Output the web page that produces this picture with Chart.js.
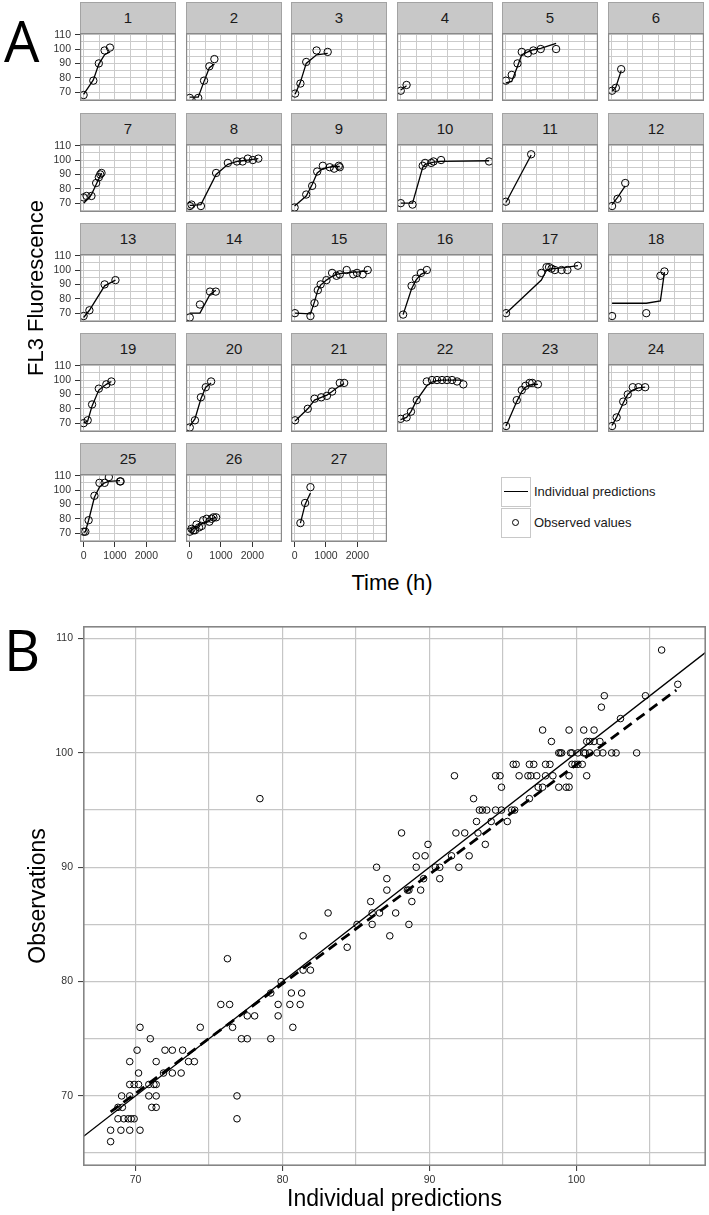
<!DOCTYPE html>
<html><head><meta charset="utf-8">
<script src="https://cdn.jsdelivr.net/npm/chart.js@4.4.1/dist/chart.umd.min.js"></script>
<style>
html,body{margin:0;padding:0;background:#fff;}
#root{position:relative;width:709px;height:1215px;overflow:hidden;background:#fff;font-family:"Liberation Sans",Arial,sans-serif;color:#1a1a1a;}
canvas{position:absolute;}
.strip{position:absolute;box-sizing:border-box;background:#c8c8c8;border:1px solid #a3a3a3;border-bottom:none;text-align:center;font-size:15px;line-height:30px;color:#1a1a1a;}
.big{position:absolute;font-family:"Open Sans",sans-serif;font-size:56px;line-height:56px;color:#000;}
.title{position:absolute;font-size:22px;line-height:26px;white-space:nowrap;text-align:center;color:#000;}
.key{position:absolute;box-sizing:border-box;width:30px;height:30px;border:1.5px solid #c8c8c8;background:#fff;}
.keytxt{position:absolute;font-size:13px;line-height:16px;color:#1a1a1a;white-space:nowrap;}
</style></head>
<body><div id="root"></div>
<script>
// ---------------- Panel A data (one entry per facet) ----------------
const facetLabels = ['1','2','3','4','5','6','7','8','9','10','11','12','13','14','15','16','17','18','19','20','21','22','23','24','25','26','27'];
const time = [
 [0,310,485,670,840],
 [5,275,460,630,790],
 [15,185,370,700,1055],
 [5,190],
 [10,195,380,515,710,885,1120,1610],
 [15,135,305],
 [0,95,250,400,485,530,570],
 [10,60,360,845,1220,1510,1690,1855,2015,2190],
 [0,370,560,720,900,1120,1260,1410,1440],
 [5,380,705,780,975,1050,1290,2820],
 [10,815],
 [15,190,435],
 [0,185,670,1015],
 [5,330,650,835],
 [10,505,635,740,830,1015,1195,1335,1440,1660,1870,1990,2170,2330],
 [80,350,490,650,835],
 [15,1140,1305,1385,1465,1570,1785,1970,2305],
 [15,1105,1555,1685],
 [0,130,270,485,725,885],
 [5,170,360,515,685],
 [15,420,635,850,1030,1195,1440,1580],
 [0,190,330,515,835,1000,1160,1320,1480,1640,1800,2000],
 [15,355,515,635,765,850,1030],
 [15,160,370,515,675,855,1070],
 [0,55,160,345,505,670,805,1160,1180],
 [5,60,120,170,220,300,385,435,545,630,700,760,845],
 [185,335,505]
];
const observed = [
 [68,78,90,99,101],
 [66,66,78,88,93],
 [69,76,91,99,98],
 [71,75],
 [78,82,90,98,97,99,100,100],
 [71,73,86],
 [74,75,75,84,88,90,91],
 [68,69,68,91,98,99,99,101,100,101],
 [67,76,82,92,96,95,94,96,95],
 [70,69,96,98,98,99,100,99],
 [71,104],
 [68,73,84],
 [68,72,90,93],
 [67,76,85,85],
 [70,68,77,86,90,93,98,96,97,100,97,98,97,100],
 [69,89,94,98,100],
 [70,98,102,102,101,100,100,100,103],
 [68,70,96,99],
 [70,72,83,94,97,99],
 [67,72,88,95,99],
 [72,80,87,88,89,92,98,98],
 [73,74,78,86,99,100,100,100,100,100,99,97],
 [68,86,93,96,98,98,97],
 [68,74,85,90,95,95,95],
 [71,71,79,96,105,105,109,106,106],
 [71,73,72,72,76,74,75,79,80,78,80,81,81],
 [77,91,102]
];
const predicted = [
 [68.5,78.5,89.5,96,98],
 [66.5,66.5,77.5,87,89.5],
 [68.5,77,90,96,97],
 [71.5,74.5],
 [76.5,77.5,88,96,98,99.5,100.5,104],
 [70.5,73.5,85],
 [70,72,76,83,87,89,91],
 [68.5,68.5,69,90,97,99,99.5,100,100.5,101],
 [68,75,83,91,94,95,95.5,95.5,95.5],
 [70,70,95,97,98,98.5,99,99.5],
 [70.5,103.5],
 [69,74,82],
 [67,72,89,93],
 [70,70,83,86],
 [70,69.5,78,86,89.5,93,95.5,97,97.5,98,98.5,98.5,99,99],
 [69,87,93,97,99],
 [70,93,100,100.5,101,101,101.5,102,103],
 [76.9,76.9,78.5,98.5],
 [70,71.5,82,93,97,99],
 [68,73,87,95,98],
 [71.5,80,86,88,89.5,92,96,97.5],
 [72.5,74,78,86,96,98.5,99.5,100,100,100,100,100],
 [68,85,92,95,96.5,97,97],
 [68.5,74,84,90,93,94.5,95],
 [70.5,71,79,95,102,105,106,106.5,106.5],
 [71,72,73,74,74.5,75.5,76.5,77,78,79,80,80.5,81],
 [77,90,98]
];
const yTicksA = [70,80,90,100,110];
const yGridA = [65,70,75,80,85,90,95,100,105,110];
const xTicksA = [0,1000,2000];
const xGridA = [0,500,1000,1500,2000,2500];

// ---------------- Panel B data ----------------
const predB = [
 83.1,85.07,81.4,84.4,76.25,79.9,81.4,81.9,80.6,81.3,79.2,75.8,76.4,79.7,80.5,81.2,77.6,78.1,79.7,76.6,80.7,74.4,70.3,
 71.0,77.2,77.6,79.2,70.1,72.0,72.5,73.2,69.6,71.4,73.6,74.0,70.2,71.9,72.5,73.1,69.6,69.9,70.2,70.9,71.25,71.4,
 69.05,69.6,70.9,71.4,76.9,68.8,69.1,71.1,71.4,68.8,69.2,69.5,69.7,69.9,76.9,68.3,69.0,69.6,70.3,68.3,78.46,
 105.8,106.9,104.7,101.9,101.7,103.0,97.7,99.5,100.5,101.2,98.3,100.7,100.9,101.2,101.6,
 98.8,98.9,99.0,99.6,99.7,100.1,100.5,100.6,100.9,101.4,101.8,102.4,102.7,104.1,
 95.7,95.9,96.8,97.1,97.9,98.2,99.7,99.9,100.1,100.4,
 91.7,94.5,94.8,96.1,96.7,96.9,97.3,97.9,98.4,99.5,100.7,
 94.9,97.4,97.7,98.8,99.3,99.5,
 93.0,96.8,
 93.4,93.6,93.9,94.5,94.9,95.6,95.8,
 93.2,94.2,95.3,
 88.1,91.8,92.4,93.3,
 89.9,93.8,
 89.1,89.7,91.5,92.7,
 86.4,89.1,90.4,90.7,92.0,
 87.1,89.6,90.7,
 87.1,88.5,88.6,89.4,
 86.0,88.8,
 86.1,86.6,87.7,
 86.1,88.6,
 87.3
];
const obsB = [
 86,85,84,83,82,80,81,81,79,79,79,78,78,78,78,78,77,77,77,76,76,76,76,
 75,75,75,75,74,74,74,74,73,73,73,73,72,72,72,72,71,71,71,71,71,71,
 70,70,70,70,70,69,69,69,69,68,68,68,68,68,68,67,67,67,67,66,96,
 109,106,105,105,104,103,102,102,102,102,101,101,101,101,101,
 100,100,100,100,100,100,100,100,100,100,100,100,100,100,
 99,99,99,99,99,99,99,99,99,99,
 98,98,98,98,98,98,98,98,98,98,98,
 97,97,97,97,97,97,
 96,96,
 95,95,95,95,95,95,95,
 94,94,94,
 93,93,93,93,
 92,92,
 91,91,91,91,
 90,90,90,90,90,
 89,89,89,
 88,88,88,88,
 87,87,
 86,86,86,
 85,85,
 84
];
const identityX = [66.42,108.82];
const identityY = [66.42,108.82];
const fitX = [68.3,106.8];
const fitY = [68.6,105.5];
const xTicksB = [70,80,90,100];
const xGridB = [70,75,80,85,90,95,100,105];
const yTicksB = [70,80,90,100,110];
const yGridB = [65,70,75,80,85,90,95,100,105,110];

// ---------------- Drawing ----------------
Chart.defaults.font.family = '"Liberation Sans", Arial, sans-serif';
Chart.defaults.color = '#333';
const root = document.getElementById('root');

const panelBorder = {
  id: 'panelBorder',
  afterDraw(chart, args, opts) {
    const a = chart.chartArea, ctx = chart.ctx, w = opts.width || 1;
    ctx.save();
    ctx.strokeStyle = opts.color || '#888';
    ctx.lineWidth = w;
    ctx.strokeRect(a.left + w/2, a.top + w/2, a.right - a.left - w, a.bottom - a.top - w);
    ctx.restore();
  }
};
Chart.register(panelBorder);

function addCanvas(left, top, w, h) {
  const c = document.createElement('canvas');
  c.width = w; c.height = h;
  c.style.left = left + 'px'; c.style.top = top + 'px';
  c.style.width = w + 'px'; c.style.height = h + 'px';
  root.appendChild(c);
  return c;
}
function addDiv(cls, text, css) {
  const d = document.createElement('div');
  d.className = cls; d.textContent = text;
  Object.assign(d.style, css);
  root.appendChild(d);
  return d;
}
function noPad(s) { s.paddingTop = 0; s.paddingBottom = 0; s.paddingLeft = 0; s.paddingRight = 0; }
const isIn = (arr, v) => arr.some(a => Math.abs(a - v) < 1e-6);

function axis(min, max, grid, labels, size, showTicks, fontSize, pad, gridColor, gridWidth) {
  return {
    type: 'linear', min, max,
    afterBuildTicks(s) { s.ticks = grid.map(v => ({value: v})); },
    afterFit(s) { if (s.isHorizontal()) s.height = size; else s.width = size; noPad(s); },
    ticks: {display: showTicks, autoSkip: false, maxRotation: 0, minRotation: 0, padding: pad, font: {size: fontSize}, color: '#333',
      callback: v => isIn(labels, v) ? String(Math.round(v)) : ''},
    grid: {color: gridColor, lineWidth: gridWidth, drawTicks: showTicks, tickLength: 5, tickWidth: 1,
      tickColor: ctx => (ctx.tick && isIn(labels, ctx.tick.value)) ? '#333' : 'rgba(0,0,0,0)'},
    border: {display: false}
  };
}

const PW = 96, PH = 68, YW = 45, XH = 24, TOPX = 8;
facetLabels.forEach((lab, k) => {
  const c = k % 6, r = Math.floor(k / 6);
  const px = Math.round(80 + 105.5 * c);
  const py = Math.round(33.4 + 110.1 * r);
  const isLeft = c === 0, isBottom = k >= 24;
  const extraTop = isLeft ? TOPX : 0;
  addDiv('strip', lab, {left: px + 'px', top: (py - 31) + 'px', width: PW + 'px', height: '31px'});
  const cv = addCanvas(px - (isLeft ? YW : 0), py - extraTop, PW + (isLeft ? YW : 0), PH + extraTop + (isBottom ? XH : 0));
  const t = time[k], o = observed[k], p = predicted[k];
  new Chart(cv, {
    type: 'scatter',
    data: {datasets: [
      {data: t.map((x, i) => ({x, y: p[i]})), showLine: true, borderColor: '#000', borderWidth: 1.3, pointRadius: 0, tension: 0},
      {data: t.map((x, i) => ({x, y: o[i]})), showLine: false, pointRadius: 3.7, pointBorderColor: '#000', pointBackgroundColor: 'rgba(0,0,0,0)', pointBorderWidth: 1}
    ]},
    options: {
      responsive: false, animation: false, devicePixelRatio: 1, events: [],
      layout: {padding: {top: extraTop, left: 0, right: 0, bottom: 0}, autoPadding: false},
      plugins: {legend: {display: false}, tooltip: {enabled: false}, panelBorder: {color: '#8a8a8a', width: 1.2}},
      scales: {
        x: axis(-115, 2945, xGridA, xTicksA, isBottom ? XH : 0, isBottom, 10.5, 3, '#cbcbcb', 1),
        y: axis(63.85, 111.15, yGridA, yTicksA, isLeft ? YW : 0, isLeft, 10.5, 4, '#cbcbcb', 1)
      }
    }
  });
});

// Panel A titles and legend
addDiv('big', 'A', {left: '4px', top: '12px'});
addDiv('title', 'FL3 Fluorescence', {left: (36 - 150) + 'px', top: (288 - 13) + 'px', width: '300px', transform: 'rotate(-90deg)'});
addDiv('title', 'Time (h)', {left: (392 - 100) + 'px', top: (583 - 13) + 'px', width: '200px'});

const k1 = addDiv('key', '', {left: '501px', top: '477px'});
const ln = document.createElement('div');
Object.assign(ln.style, {position: 'absolute', left: '2px', right: '2px', top: '12.5px', height: '1.6px', background: '#000'});
k1.appendChild(ln);
const k2 = addDiv('key', '', {left: '501px', top: '507.5px'});
const dot = document.createElement('div');
Object.assign(dot.style, {position: 'absolute', left: '10px', top: '10px', width: '7px', height: '7px', boxSizing: 'border-box', border: '1px solid #000', borderRadius: '50%'});
k2.appendChild(dot);
addDiv('keytxt', 'Individual predictions', {left: '534px', top: '484px'});
addDiv('keytxt', 'Observed values', {left: '534px', top: '515px'});

// Panel B
addDiv('big', 'B', {left: '4px', top: '621px'});
const cvB = addCanvas(0, 600, 709, 615);
const xB = axis(66.42, 108.82, xGridB, xTicksB, 49, true, 10.5, 3, '#c6c6c6', 1.2);
xB.title = {display: true, text: 'Individual predictions', color: '#000', font: {size: 23}, padding: {top: 0, bottom: 2}};
const yB = axis(63.87, 111.1, yGridB, yTicksB, 83, true, 10.5, 5, '#c6c6c6', 1.2);
yB.title = {display: true, text: 'Observations', color: '#000', font: {size: 23}, padding: {top: 25, bottom: 0}};
new Chart(cvB, {
  type: 'scatter',
  data: {datasets: [
    {data: predB.map((x, i) => ({x, y: obsB[i]})), showLine: false, pointRadius: 3.3, pointBorderColor: '#000', pointBackgroundColor: 'rgba(0,0,0,0)', pointBorderWidth: 1},
    {data: identityX.map((x, i) => ({x, y: identityY[i]})), showLine: true, borderColor: '#000', borderWidth: 1.3, pointRadius: 0},
    {data: fitX.map((x, i) => ({x, y: fitY[i]})), showLine: true, borderColor: '#000', borderWidth: 2.8, borderDash: [10, 6], pointRadius: 0}
  ]},
  options: {
    responsive: false, animation: false, devicePixelRatio: 1, events: [],
    layout: {padding: {top: 26, right: 3, left: 0, bottom: 0}, autoPadding: false},
    plugins: {legend: {display: false}, tooltip: {enabled: false}, panelBorder: {color: '#858585', width: 1.6}},
    scales: {x: xB, y: yB}
  }
});
</script>
</body></html>
